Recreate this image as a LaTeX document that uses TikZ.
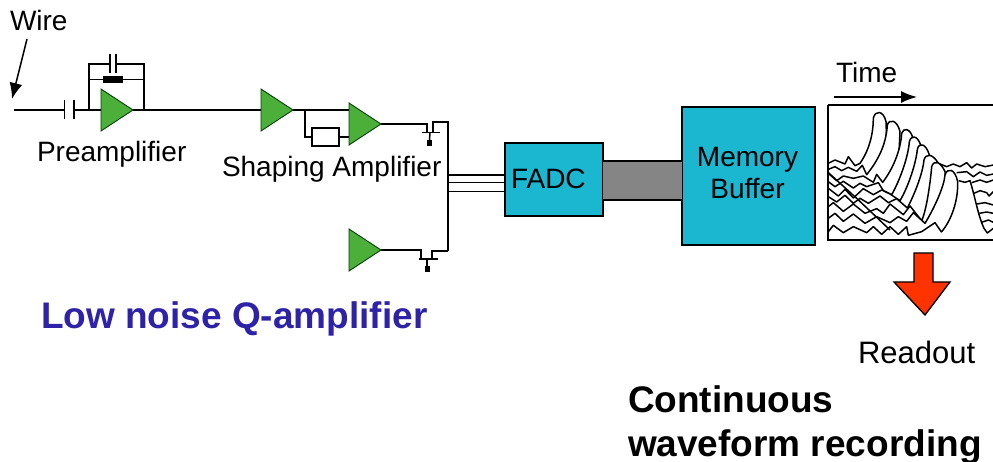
\documentclass[tikz,border=0pt]{standalone}
\usepackage{fontspec}
\setmainfont{Liberation Sans}
\usetikzlibrary{shapes.geometric,arrows.meta}
\definecolor{ampgreen}{HTML}{4CAF3A}
\definecolor{boxcyan}{HTML}{1BB6CF}
\definecolor{busgray}{HTML}{858585}
\definecolor{redarrow}{HTML}{FF3300}
\definecolor{qblue}{HTML}{2E22A8}
\newcommand{\wv}[1]{\fill[white] #1 |- (55,572) -- cycle; \draw[line width=1.5pt,line join=round] #1;}
\tikzset{
  wire/.style={line width=1.5pt,line join=miter},
  amp/.style={draw=black!75!green,line width=0.9pt,fill=ampgreen,isosceles triangle,isosceles triangle stretches,minimum height=32pt,minimum width=42pt,inner sep=0pt,outer sep=0pt,anchor=lower side},
  blockbox/.style={draw=black,line width=1.3pt,fill=boxcyan,inner sep=0pt,outer sep=0pt,anchor=north west},
  lab/.style={inner sep=0pt,outer sep=0pt,anchor=base west,font=\fontsize{28}{32}\selectfont},
  bigb/.style={inner sep=0pt,outer sep=0pt,anchor=base west,font=\fontsize{37}{44}\selectfont\bfseries},
  resist/.style={draw=black,line width=1.5pt,fill=white,inner sep=0pt,outer sep=0pt,minimum width=27pt,minimum height=18pt},
  blackres/.style={fill=black,inner sep=0pt,outer sep=0pt,minimum width=20pt,minimum height=7pt},
  blacksq/.style={fill=black,inner sep=0pt,outer sep=0pt,minimum width=5pt,minimum height=6pt}
}
\begin{document}
\begin{tikzpicture}[x=1pt,y=-1pt]
\useasboundingbox (0,0) rectangle (993,462);
% labels
\node[lab] (wire) at (10,31) {Wire};
\node[lab] (pre) at (37,162) {Preamplifier};
\node[lab] (shap) at (222,177) {Shaping Amplifier};
\node[lab] (time) at (836,83) {Time};
\node[lab,font=\fontsize{31}{36}\selectfont] (read) at (858,363) {Readout};
\node[bigb,text=qblue] (lownoise) at (41,328) {Low noise Q-amplifier};
\node[bigb] (cont) at (628,412) {Continuous};
\node[bigb] (wave) at (628,456) {waveform recording};
% wire arrow
\coordinate (wa) at (27,39);
\coordinate (wb) at (12,99);
\draw[line width=1.5pt,-{Latex[length=16pt,width=13pt]}] (wa) -- (wb);
% amplifiers
\node[amp] (a1) at (101,110) {};
\node[amp] (a2) at (261,110) {};
\node[amp] (a3) at (349,124) {};
\node[amp] (a4) at (349,250) {};
% input chain
\coordinate (in) at (14,110);
\coordinate (c1a) at (64.5,110);
\coordinate (c1b) at (74,110);
\draw[wire] (in) -- (c1a);
\draw[wire] (64.5,100) -- (64.5,119);
\draw[wire] (74,100) -- (74,119);
\draw[wire] (c1b) -- (a1.lower side);
% feedback
\coordinate (fl) at (89,110);
\coordinate (fr) at (144,110);
\draw[wire] (fl) |- (110,64);
\draw[wire] (fr) |- (116,64);
\draw[wire] (110,54) -- (110,73);
\draw[wire] (116,54) -- (116,73);
\coordinate (ml) at (89,79.5);
\coordinate (mr) at (144,79.5);
\draw[wire] (ml) -- (mr);
\node[blackres] (rf) at (113,79.5) {};
% main line
\draw[wire] (a1.apex) -- (a2.lower side);
\coordinate (j1) at (305,110);
\draw[wire] (a2.apex) -- (j1) -- (349,110);
\node[resist] (rs) at (325.5,137) {};
\draw[wire] (j1) |- (rs.west);
\draw[wire] (rs.east) -- (349,137);
% FET upper
\coordinate (g1) at (427,132.5);
\draw[wire] (a3.apex) -| (g1);
\draw[wire] (422,132.5) -- (440,132.5);
\coordinate (d1) at (433,132.5);
\coordinate (bustop) at (448,122);
\coordinate (busbot) at (448,251);
\draw[wire] (d1) |- (bustop) -- (busbot);
\node[blacksq] (s1) at (429.5,143) {};
\draw[wire] (430,132.5) -- (s1.north);
% FET lower
\coordinate (g2) at (421,259);
\draw[wire] (a4.apex) -| (g2);
\draw[wire] (419,259) -- (438,259);
\draw[wire] (432,259) |- (busbot);
\node[blacksq] (s2) at (427,269.5) {};
\draw[wire] (427,259) -- (s2.north);
% blocks
\node[blockbox,minimum width=98pt,minimum height=73pt] (fadc) at (505,143) {};
\node[blockbox,minimum width=133pt,minimum height=138pt] (mem) at (682,107) {};
\node[lab] (fadct) at (511,189) {FADC};
\node[lab,anchor=base] (memt) at (747.5,167) {Memory};
\node[lab,anchor=base] (buft) at (747.5,199) {Buffer};
% three lines
\foreach \yy in {175,182.5,191.5}{\draw[wire] (448,\yy) -- (505,\yy);}
% gray bus
\fill[busgray] (603,161) rectangle (682,200);
\draw[wire] (603,161) -- (682,161);
\draw[wire] (603,200) -- (682,200);
% time arrow
\coordinate (ta) at (834,97);
\coordinate (tb) at (917,97);
\draw[line width=1.5pt,-{Latex[length=16pt,width=12pt]}] (ta) -- (tb);
% waveform
\begin{scope}
\clip (828,105) rectangle (993,240);
\begin{scope}[x=0.33333pt,y=-0.33333pt,shift={(810pt,-50pt)}]
% right-hand traces
\draw[line width=1.5pt,line join=round] (385,340)--(410,350)--(430,342)--(450,350)--(470,338)--(485,354)--(500,342)--(525,350)--(550,345);
\draw[line width=1.5pt,line join=round] (440,368)--(470,365)--(490,380)--(510,366)--(530,376)--(550,372);
\draw[line width=1.5pt,line join=round] (485,398)--(510,390)--(530,397)--(550,390);
\draw[line width=1.5pt,line join=round] (492,430)--(510,422)--(530,428)--(537,438)--(550,425);
\draw[line width=1.5pt,line join=round] (500,462)--(525,458)--(550,465);
\draw[line width=1.5pt,line join=round] (508,490)--(530,486)--(550,490);
\draw[line width=1.5pt,line join=round] (515,517)--(535,510)--(550,517);
\wv{(446,392)--(465,397)--(480,392) .. controls (495,440) and (505,500) .. (522,535) -- (532,549) -- (550,535)}
% peaks back to front
\wv{(55,340)--(75,330)--(105,342)--(115,320)--(135,347)--(150,340) .. controls (178,300) and (190,250) .. (190,205) .. controls (195,180) and (220,180) .. (228,215) -- (232,330)}
\wv{(55,358)--(75,350)--(95,362)--(115,352)--(140,364)--(157,346)--(170,374) .. controls (205,330) and (228,285) .. (232,225) .. controls (238,205) and (262,210) .. (270,245) -- (265,350)}
\wv{(55,370)--(80,392)--(100,378)--(130,385)--(160,378)--(190,397)--(200,373)--(218,397) .. controls (250,355) and (272,300) .. (275,250) .. controls (280,232) and (300,235) .. (308,262) -- (300,360)}
\wv{(55,395)--(75,410)--(100,394)--(130,414)--(150,400)--(170,410)--(205,398)--(220,422)--(245,434) .. controls (270,390) and (295,320) .. (298,275) .. controls (303,255) and (322,255) .. (332,285) -- (320,380)}
\wv{(55,415)--(85,438)--(105,418)--(130,444)--(160,416)--(190,434)--(215,420)--(240,432)--(270,452) .. controls (295,410) and (318,340) .. (322,298) .. controls (327,276) and (348,280) .. (358,315) -- (350,400)}
\wv{(55,440)--(80,456)--(105,436)--(130,460)--(150,445)--(175,460)--(210,438)--(235,458)--(260,446)--(292,474) .. controls (315,430) and (338,370) .. (342,330) .. controls (347,310) and (368,310) .. (385,340) -- (390,420)}
\wv{(55,470)--(70,458)--(100,484)--(130,462)--(165,490)--(200,476)--(220,490)--(240,462)--(280,494)--(300,468)--(335,512) .. controls (350,480) and (362,390) .. (365,350) .. controls (372,328) and (392,335) .. (405,365) -- (410,450)}
\wv{(55,505)--(75,490)--(100,514)--(130,492)--(165,520)--(200,500)--(240,518)--(265,500)--(290,514)--(310,488)--(345,520) .. controls (375,470) and (402,410) .. (405,375) .. controls (412,352) and (435,355) .. (443,395) .. controls (445,450) and (425,510) .. (395,545)}
\wv{(55,545)--(70,526)--(100,548)--(130,530)--(170,548)--(190,530)--(215,553)--(240,530)--(265,553)--(290,530)--(295,556)--(335,545)--(375,518)--(395,547)}
\draw[line width=1.5pt] (55,368) -- (140,445) -- (240,540);
\end{scope}
\end{scope}
\draw[line width=1.5pt] (828,105) -- (993,105) (828,105) -- (828,240) -- (993,240);
% red arrow
\draw[line width=1.3pt,fill=redarrow,line join=miter] (914,253) -- (933,253) -- (933,282) -- (950,282) -- (925,315) -- (894,282) -- (914,282) -- cycle;
\end{tikzpicture}
\end{document}
